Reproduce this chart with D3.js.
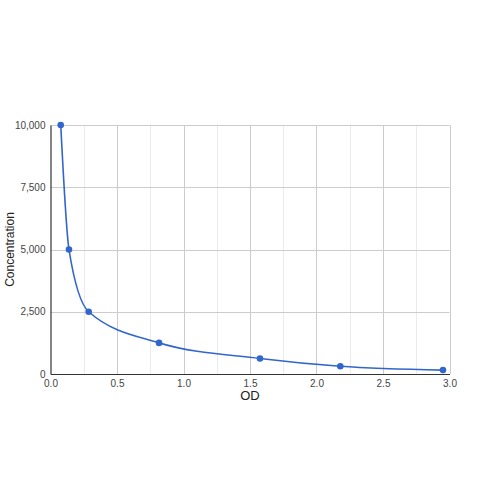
<!DOCTYPE html>
<html>
<head>
<meta charset="utf-8">
<script src="https://cdn.jsdelivr.net/npm/d3@7"></script>
<style>
  body { margin: 0; background: #fff; }
  text { font-family: "Liberation Sans", Arial, sans-serif; }
</style>
</head>
<body>
<div id="chart"></div>
<script>
// data
const odValues = [0.077, 0.139, 0.287, 0.816, 1.575, 2.179, 2.951];
const concValues = [10000, 5000, 2500, 1250, 625, 312.5, 156.25];
const xTicks = [0, 0.5, 1, 1.5, 2, 2.5, 3];
const xMinorTicks = [0.25, 0.75, 1.25, 1.75, 2.25, 2.75];
const yTicks = [0, 2500, 5000, 7500, 10000];

const width = 500, height = 500;
const plotLeft = 50.5, plotRight = 449.5, plotTop = 125, plotBottom = 374;

const svg = d3.select("#chart").append("svg")
    .attr("width", width).attr("height", height);

const x = d3.scaleLinear().domain([0, 3]).range([plotLeft, plotRight]);
const y = d3.scaleLinear().domain([0, 10000]).range([plotBottom, plotTop]);

// minor vertical grid
svg.append("g").selectAll("line").data(xMinorTicks).join("line")
    .attr("x1", d => Math.round(x(d)) + 0.5).attr("x2", d => Math.round(x(d)) + 0.5)
    .attr("y1", plotTop).attr("y2", plotBottom)
    .attr("stroke", "#ebebeb");

// major vertical grid
svg.append("g").selectAll("line").data(xTicks.slice(1)).join("line")
    .attr("x1", d => Math.round(x(d)) + 0.5).attr("x2", d => Math.round(x(d)) + 0.5)
    .attr("y1", plotTop).attr("y2", plotBottom)
    .attr("stroke", "#cccccc");

// horizontal grid
svg.append("g").selectAll("line").data(yTicks.slice(1)).join("line")
    .attr("x1", plotLeft).attr("x2", plotRight)
    .attr("y1", d => Math.round(y(d)) + 0.5).attr("y2", d => Math.round(y(d)) + 0.5)
    .attr("stroke", "#cccccc");

// x axis
const xAxis = svg.append("g")
    .attr("transform", `translate(0,${plotBottom})`)
    .call(d3.axisBottom(x).tickValues(xTicks).tickFormat(d3.format(".1f")).tickSize(0).tickPadding(6));
xAxis.select(".domain").attr("stroke", "#333").attr("stroke-width", 1.2);
xAxis.selectAll("text").attr("fill", "#444").attr("font-size", 10);

// y axis
const yAxis = svg.append("g")
    .attr("transform", `translate(${plotLeft},0)`)
    .call(d3.axisLeft(y).tickValues(yTicks).tickFormat(d3.format(",")).tickSize(0).tickPadding(5));
yAxis.select(".domain").attr("stroke", "#333").attr("stroke-width", 1.2);
yAxis.selectAll("text").attr("fill", "#444").attr("font-size", 10);

// axis titles
svg.append("text")
    .attr("x", (plotLeft + plotRight) / 2).attr("y", 400)
    .attr("text-anchor", "middle")
    .attr("font-size", 13).attr("fill", "#222")
    .text("OD");

svg.append("text")
    .attr("transform", `translate(14,${(plotTop + plotBottom) / 2}) rotate(-90)`)
    .attr("text-anchor", "middle")
    .attr("font-size", 12).attr("fill", "#222")
    .text("Concentration");

// curve
const points = odValues.map((d, i) => [d, concValues[i]]);
const line = d3.line()
    .x(d => x(d[0])).y(d => y(d[1]))
    .curve(d3.curveMonotoneX);

svg.append("path")
    .datum(points)
    .attr("d", line)
    .attr("fill", "none")
    .attr("stroke", "#3366cc")
    .attr("stroke-width", 1.6);

svg.append("g").selectAll("circle").data(points).join("circle")
    .attr("cx", d => x(d[0])).attr("cy", d => y(d[1]))
    .attr("r", 3.3)
    .attr("fill", "#3366cc");
</script>
</body>
</html>
